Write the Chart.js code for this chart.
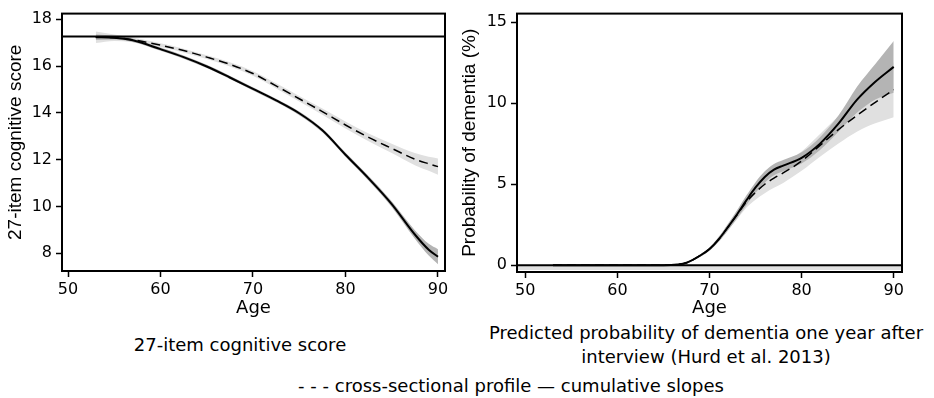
<!DOCTYPE html>
<html>
<head>
<meta charset="utf-8">
<script src="https://cdn.jsdelivr.net/npm/chart.js@4.4.1/dist/chart.umd.min.js"></script>
<style>
body { margin: 0; background: #fff; width: 934px; height: 398px; position: relative; overflow: hidden; font-family: 'DejaVu Sans', sans-serif; color: #000; }
.caixa { position: absolute; top: 0; height: 320px; }
#caixa-esq { left: 0; width: 460px; }
#caixa-dir { left: 460px; width: 474px; }
.texto { position: absolute; font-size: 18px; line-height: 24px; text-align: center; white-space: nowrap; }
#titulo-esq { left: 40px; width: 400px; top: 333px; }
#titulo-dir { left: 456px; width: 500px; top: 321px; }
#legenda { left: 211px; width: 600px; top: 374px; }
</style>
</head>
<body>
<div class="caixa" id="caixa-esq"><canvas id="graf-esq"></canvas></div>
<div class="caixa" id="caixa-dir"><canvas id="graf-dir"></canvas></div>
<div class="texto" id="titulo-esq">27-item cognitive score</div>
<div class="texto" id="titulo-dir">Predicted probability of dementia one year after<br>interview (Hurd et al. 2013)</div>
<div class="texto" id="legenda">- - - cross-sectional profile — cumulative slopes</div>
<script>
// painel esquerdo: escore cognitivo
var idadeEsq = [53, 55, 57, 60, 62.5, 65, 67.5, 70, 72.5, 75, 77.5, 80, 82.5, 85, 87.5, 89, 90];
var cumEsq   = [17.23, 17.21, 17.10, 16.72, 16.38, 15.98, 15.51, 15.02, 14.53, 13.98, 13.25, 12.21, 11.20, 10.10, 8.80, 8.15, 7.85];
var cumEsqLo = [17.11, 17.13, 17.03, 16.65, 16.31, 15.91, 15.44, 14.95, 14.46, 13.90, 13.17, 12.12, 11.10, 9.98, 8.62, 7.90, 7.53];
var cumEsqHi = [17.35, 17.29, 17.17, 16.79, 16.45, 16.05, 15.58, 15.09, 14.60, 14.06, 13.33, 12.30, 11.30, 10.22, 8.98, 8.40, 8.17];
var transEsq   = [17.23, 17.21, 17.12, 16.89, 16.66, 16.38, 16.07, 15.68, 15.15, 14.60, 14.05, 13.48, 12.95, 12.48, 12.02, 11.82, 11.70];
var transEsqLo = [16.98, 17.07, 17.02, 16.81, 16.58, 16.30, 15.98, 15.58, 15.04, 14.48, 13.92, 13.33, 12.78, 12.28, 11.76, 11.52, 11.35];
var transEsqHi = [17.48, 17.35, 17.22, 16.97, 16.74, 16.46, 16.16, 15.78, 15.26, 14.72, 14.18, 13.63, 13.12, 12.68, 12.28, 12.12, 12.05];
var refEsq = 17.26;
var ticksXEsq = [50, 60, 70, 80, 90];
var ticksYEsq = [8, 10, 12, 14, 16, 18];

// painel direito: probabilidade de demência
var idadeDir = [53, 60, 65, 66.5, 67.5, 69, 70, 71, 72, 73, 74, 75, 76, 77, 78, 80, 82, 84, 86, 88, 90];
var cumDir   = [0, 0, 0, 0.04, 0.15, 0.60, 1.00, 1.60, 2.35, 3.15, 4.00, 4.80, 5.45, 5.90, 6.15, 6.63, 7.51, 8.74, 10.21, 11.33, 12.25];
var cumDirLo = [0, 0, 0, 0.02, 0.10, 0.52, 0.90, 1.45, 2.15, 2.90, 3.70, 4.47, 5.10, 5.55, 5.80, 6.28, 7.11, 8.24, 9.41, 10.23, 10.65];
var cumDirHi = [0, 0, 0, 0.06, 0.20, 0.68, 1.10, 1.75, 2.55, 3.40, 4.30, 5.13, 5.80, 6.25, 6.50, 6.98, 7.91, 9.24, 11.01, 12.43, 13.85];
var transDir   = [0, 0, 0, 0.04, 0.15, 0.60, 1.00, 1.60, 2.35, 3.12, 3.90, 4.50, 5.00, 5.38, 5.70, 6.43, 7.40, 8.37, 9.25, 10.06, 10.84];
var transDirLo = [0, 0, 0, 0.02, 0.10, 0.52, 0.90, 1.45, 2.15, 2.84, 3.55, 4.05, 4.45, 4.78, 5.08, 5.83, 6.70, 7.52, 8.25, 8.76, 9.14];
var transDirHi = [0, 0, 0, 0.06, 0.20, 0.68, 1.10, 1.75, 2.55, 3.40, 4.25, 4.95, 5.55, 5.98, 6.32, 7.03, 8.10, 9.22, 10.25, 11.36, 12.54];
var refDir = 0;
var faixaZeroLo = -0.3;
var ticksXDir = [50, 60, 70, 80, 90];
var ticksYDir = [0, 5, 10, 15];

var corClara = '#e0e0e0';
var corEscura = '#b4b4b4';

Chart.defaults.color = '#000';
Chart.defaults.font.family = "'DejaVu Sans', sans-serif";
Chart.defaults.animation = false;

function pontos(xs, ys) {
    var r = [];
    for (var i = 0; i < xs.length; i++) r.push({ x: xs[i], y: ys[i] });
    return r;
}

function constante(x0, x1, v) {
    return [{ x: x0, y: v }, { x: x1, y: v }];
}

// order maior = desenhado por baixo
function faixa(xs, lo, hi, cor, ordem) {
    return [
        { data: pontos(xs, lo), borderWidth: 0, pointRadius: 0, fill: false, cubicInterpolationMode: 'monotone', order: ordem },
        { data: pontos(xs, hi), borderWidth: 0, pointRadius: 0, fill: '-1', backgroundColor: cor, cubicInterpolationMode: 'monotone', order: ordem }
    ];
}

function linha(xs, ys, tracejada) {
    return {
        data: pontos(xs, ys), borderColor: '#000', backgroundColor: 'transparent',
        borderWidth: tracejada ? 1.5 : 2, borderDash: tracejada ? [9, 5] : [],
        pointRadius: 0, fill: false, cubicInterpolationMode: 'monotone', order: 0
    };
}

// contorno da área do gráfico
var moldura = {
    id: 'moldura',
    afterDatasetsDraw: function(chart) {
        var a = chart.chartArea, ctx = chart.ctx;
        ctx.save();
        ctx.strokeStyle = '#000';
        ctx.lineWidth = 2;
        ctx.strokeRect(a.left, a.top, a.right - a.left, a.bottom - a.top);
        ctx.restore();
    }
};

function escalas(cfg) {
    var marcas = { display: true, drawOnChartArea: false, drawTicks: true, tickLength: 6, tickWidth: 1.5, tickColor: '#000' };
    return {
        x: {
            type: 'linear', min: cfg.xMin, max: cfg.xMax,
            border: { display: false }, grid: marcas,
            ticks: { font: { size: 16 }, padding: 3, maxRotation: 0 },
            afterBuildTicks: function(s) { s.ticks = cfg.ticksX.map(function(v) { return { value: v }; }); },
            afterFit: function(s) { s.height = cfg.alturaX; },
            title: { display: true, text: 'Age', font: { size: 18, lineHeight: 1 }, padding: 0 }
        },
        y: {
            type: 'linear', min: cfg.yMin, max: cfg.yMax,
            border: { display: false }, grid: marcas,
            ticks: { font: { size: 16 }, padding: 4 },
            afterBuildTicks: function(s) { s.ticks = cfg.ticksY.map(function(v) { return { value: v }; }); },
            afterFit: function(s) { s.width = cfg.larguraY; },
            title: { display: true, text: cfg.tituloY, font: { family: "'Liberation Sans', Arial, sans-serif", size: 19, lineHeight: 1 }, padding: { top: cfg.padTitulo, bottom: 0 } }
        }
    };
}

function desenhar(id, datasets, cfg) {
    return new Chart(document.getElementById(id), {
        type: 'line',
        data: { datasets: datasets },
        options: {
            responsive: true, maintainAspectRatio: false,
            layout: { padding: cfg.padding },
            plugins: { legend: { display: false }, tooltip: { enabled: false } },
            scales: escalas(cfg)
        },
        plugins: [moldura]
    });
}

var cfgEsq = {
    xMin: 49.35, xMax: 90.76, yMin: 7.24, yMax: 18.24,
    ticksX: ticksXEsq, ticksY: ticksYEsq, alturaX: 46, larguraY: 62, padTitulo: 6.5,
    tituloY: '27-item cognitive score',
    padding: { left: 0, right: 15, top: 10, bottom: 3 }
};
var cfgDir = {
    xMin: 49.1, xMax: 90.9, yMin: -0.42, yMax: 15.54,
    ticksX: ticksXDir, ticksY: ticksYDir, alturaX: 45, larguraY: 57, padTitulo: 0.5,
    tituloY: 'Probability of dementia (%)',
    padding: { left: 0, right: 32, top: 7, bottom: 3 }
};

var dsEsq = []
    .concat(faixa(idadeEsq, transEsqLo, transEsqHi, corClara, 3))
    .concat(faixa(idadeEsq, cumEsqLo, cumEsqHi, corEscura, 2));
dsEsq.push({ data: constante(cfgEsq.xMin, cfgEsq.xMax, refEsq), borderColor: '#000', borderWidth: 2, pointRadius: 0, fill: false, order: 1 });
dsEsq.push(linha(idadeEsq, transEsq, true));
dsEsq.push(linha(idadeEsq, cumEsq, false));

var dsDir = [
    { data: constante(cfgDir.xMin, cfgDir.xMax, faixaZeroLo), borderWidth: 0, pointRadius: 0, fill: false, order: 4 },
    { data: constante(cfgDir.xMin, cfgDir.xMax, refDir), borderWidth: 0, pointRadius: 0, fill: '-1', backgroundColor: corClara, order: 4 }
]
    .concat(faixa(idadeDir, transDirLo, transDirHi, corClara, 3))
    .concat(faixa(idadeDir, cumDirLo, cumDirHi, corEscura, 2));
dsDir.push({ data: constante(cfgDir.xMin, cfgDir.xMax, refDir), borderColor: '#000', borderWidth: 2, pointRadius: 0, fill: false, order: 1 });
dsDir.push(linha(idadeDir, transDir, true));
dsDir.push(linha(idadeDir, cumDir, false));

desenhar('graf-esq', dsEsq, cfgEsq);
desenhar('graf-dir', dsDir, cfgDir);
</script>
</body>
</html>
